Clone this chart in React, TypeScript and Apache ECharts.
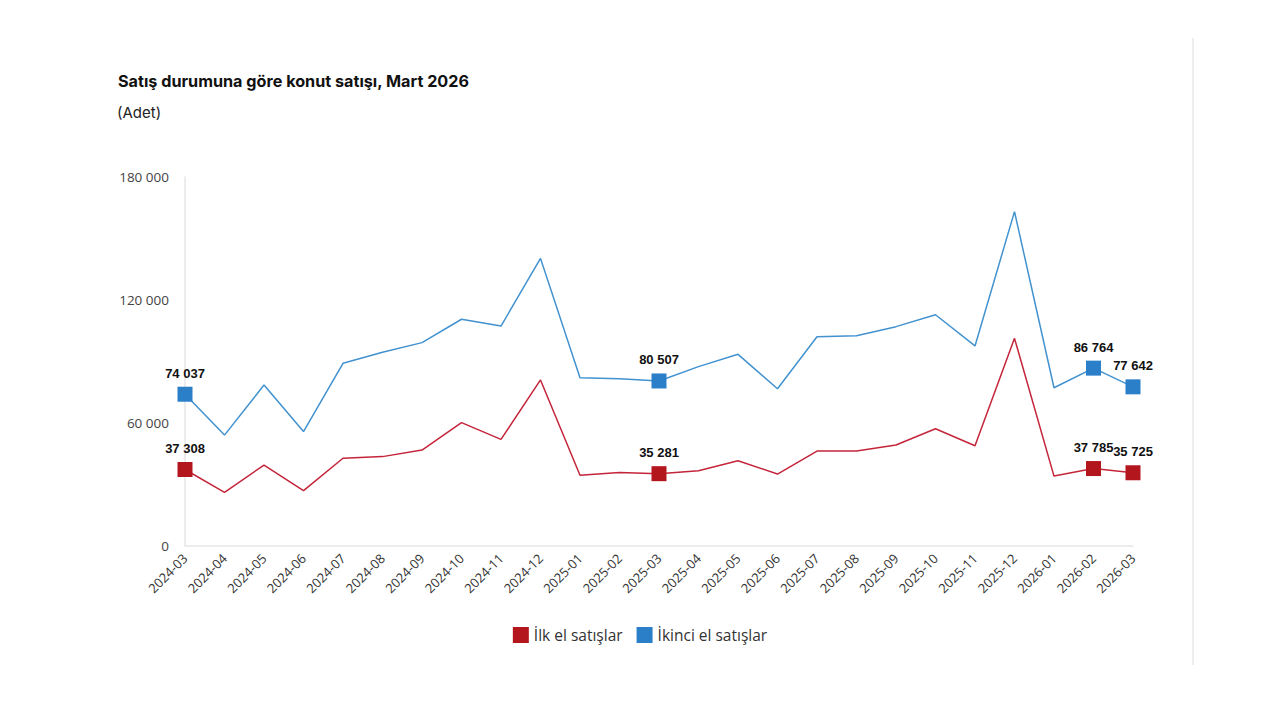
import React, { useEffect, useRef } from "react";
import * as echarts from "echarts";

const categories = [
  "2024-03", "2024-04", "2024-05", "2024-06", "2024-07", "2024-08", "2024-09", "2024-10",
  "2024-11", "2024-12", "2025-01", "2025-02", "2025-03", "2025-04", "2025-05", "2025-06",
  "2025-07", "2025-08", "2025-09", "2025-10", "2025-11", "2025-12", "2026-01", "2026-02", "2026-03",
];

const ilkEl = [
  37308, 26200, 39500, 27000, 42800, 43600, 46800, 60200, 52000, 81000, 34500, 35800, 35281,
  36700, 41600, 35100, 46300, 46300, 49300, 57200, 48900, 101300, 34100, 37785, 35725,
];

const ikinciEl = [
  74037, 54100, 78500, 55800, 89100, 94500, 99200, 110600, 107300, 140300, 82100, 81600, 80507,
  87500, 93500, 76700, 102100, 102600, 107000, 112800, 97600, 163100, 77200, 86764, 77642,
];

const labelledIndices = [0, 12, 23, 24];
const yTicks = [0, 60000, 120000, 180000];

const seriesNames = ["İlk el satışlar", "İkinci el satışlar"];

const fmt = (v: number) => String(Math.round(v)).replace(/\B(?=(\d{3})+(?!\d))/g, " ");

export default function App() {
  const ref = useRef<HTMLDivElement>(null);

  useEffect(() => {
    if (!ref.current) return;
    const chart = echarts.init(ref.current, undefined, { renderer: "svg" });

    const buildData = (values: number[], color: string) =>
      values.map((v, i) => {
        const on = labelledIndices.includes(i);
        return {
          value: v,
          symbol: on ? "rect" : "none",
          symbolSize: on ? 15 : 0,
          itemStyle: { color, borderColor: color, borderWidth: 0 },
          label: {
            show: on,
            position: "top",
            distance: 7,
            formatter: (p: any) => fmt(p.value),
            fontFamily: "Liberation Sans",
            fontWeight: "bold",
            fontSize: 13,
            color: "#111",
          },
        };
      });

    const redMarker = "#B4161E";
    const blueMarker = "#2B7FC9";

    chart.setOption({
      animation: false,
      backgroundColor: "#ffffff",
      title: [
        {
          text: "Satış durumuna göre konut satışı, Mart 2026",
          left: 113,
          top: 68,
          textStyle: { fontFamily: "Inter", fontWeight: "bold", fontSize: 16.2, color: "#111" },
        },
        {
          text: "(Adet)",
          left: 112,
          top: 100,
          textStyle: { fontFamily: "Inter", fontWeight: "normal", fontSize: 15, color: "#222" },
        },
      ],
      legend: {
        bottom: 72,
        left: "center",
        itemWidth: 16,
        itemHeight: 16,
        itemGap: 14,
        icon: "rect",
        textStyle: { fontFamily: "Open Sans", fontSize: 15.5, color: "#333" },
        data: [
          { name: seriesNames[0], itemStyle: { color: redMarker } },
          { name: seriesNames[1], itemStyle: { color: blueMarker } },
        ],
      },
      grid: {
        left: 185,
        right: 147,
        top: 177,
        bottom: 174,
        containLabel: false,
        outerBoundsMode: "none",
      },
      xAxis: {
        type: "category",
        data: categories,
        boundaryGap: false,
        axisLine: { show: true, lineStyle: { color: "#e6e6e6", width: 1.5 } },
        axisTick: { show: false },
        axisLabel: {
          rotate: 45,
          margin: 10,
          fontFamily: "Open Sans",
          fontSize: 13,
          fontWeight: 500,
          color: "#333",
          interval: 0,
        },
        splitLine: { show: false },
      },
      yAxis: {
        type: "value",
        min: yTicks[0],
        max: yTicks[yTicks.length - 1],
        interval: yTicks[1] - yTicks[0],
        axisLine: { show: true, lineStyle: { color: "#e6e6e6", width: 1.5 } },
        axisTick: { show: false },
        splitLine: { show: false },
        axisLabel: {
          margin: 16,
          fontFamily: "Open Sans",
          fontSize: 13.5,
          color: "#444",
          formatter: (v: number) => fmt(v),
        },
      },
      graphic: [
        {
          type: "line",
          shape: { x1: 1193, y1: 38, x2: 1193, y2: 665 },
          style: { stroke: "#e8e8e8", lineWidth: 1.5 },
        },
      ],
      series: [
        {
          name: seriesNames[0],
          type: "line",
          data: buildData(ilkEl, redMarker),
          showSymbol: true,
          lineStyle: { color: "#C4253A", width: 1.5 },
          itemStyle: { color: redMarker },
          z: 3,
        },
        {
          name: seriesNames[1],
          type: "line",
          data: buildData(ikinciEl, blueMarker),
          showSymbol: true,
          lineStyle: { color: "#4192CF", width: 1.5 },
          itemStyle: { color: blueMarker },
          z: 3,
        },
      ],
    });

    return () => chart.dispose();
  }, []);

  return (
    <div
      ref={ref}
      style={{ position: "fixed", left: 0, top: 0, width: 1280, height: 720, background: "#fff" }}
    />
  );
}
